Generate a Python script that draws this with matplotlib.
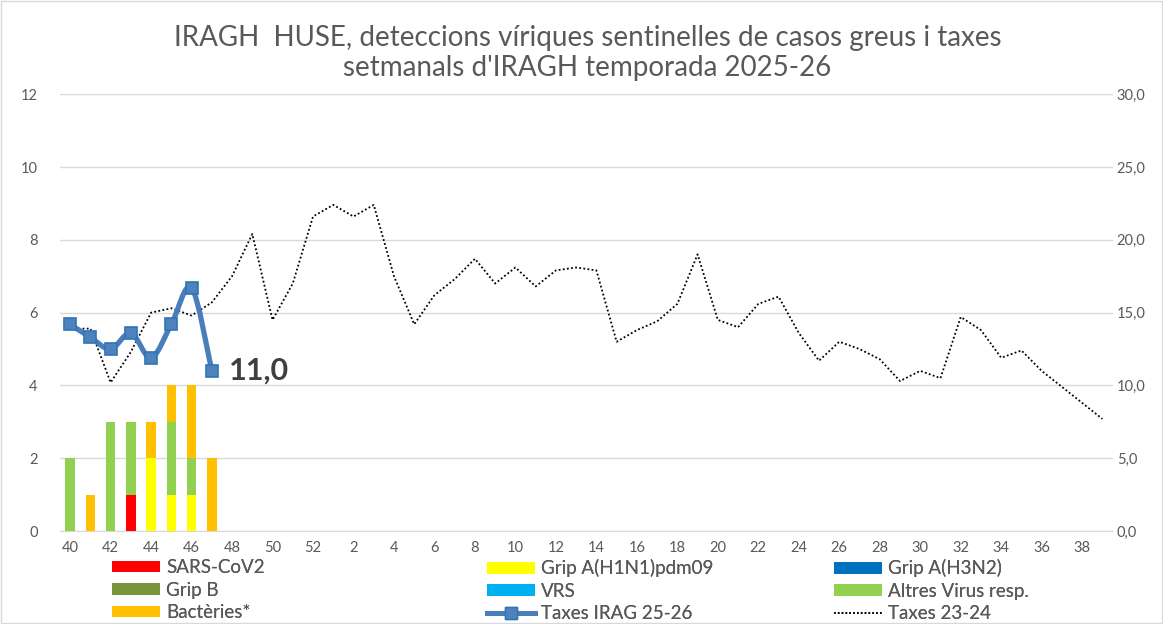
import matplotlib

matplotlib.use("Agg")
import matplotlib.pyplot as plt
from matplotlib.lines import Line2D
from matplotlib.patches import Patch, PathPatch, Rectangle
from matplotlib.path import Path
from matplotlib.ticker import FuncFormatter

plt.rcParams["font.family"] = ["Lato", "DejaVu Sans"]

# Setmanes epidemiològiques 40..52, 1..39
weeks = list(range(40, 53)) + list(range(1, 40))

# Deteccions (eix esquerre), setmanes 40..47
sars_cov2 = [0, 0, 0, 1, 0, 0, 0, 0]
grip_h1n1 = [0, 0, 0, 0, 2, 1, 1, 0]
grip_h3n2 = [0, 0, 0, 0, 0, 0, 0, 0]
grip_b = [0, 0, 0, 0, 0, 0, 0, 0]
vrs = [0, 0, 0, 0, 0, 0, 0, 0]
altres_virus = [2, 0, 3, 2, 0, 2, 1, 0]
bacteries = [0, 1, 0, 0, 1, 1, 2, 2]

# Taxes (eix dret)
taxes_25_26 = [14.2, 13.3, 12.5, 13.6, 11.9, 14.2, 16.7, 11.0]
taxes_23_24 = [
    13.9, 13.9, 10.2, 12.3, 15.0, 15.3, 14.8, 15.7, 17.5, 20.4,
    14.5, 17.0, 21.6, 22.4, 21.6, 22.4, 17.5, 14.2, 16.2, 17.3,
    18.7, 17.0, 18.1, 16.8, 17.9, 18.1, 17.9, 13.0, 13.8, 14.4,
    15.6, 19.0, 14.5, 14.0, 15.6, 16.1, 13.6, 11.7, 13.0, 12.5,
    11.8, 10.3, 11.0, 10.5, 14.7, 13.8, 11.9, 12.4, 11.0, 9.9,
    8.8, 7.7,
]

series = [
    ("SARS-CoV2", sars_cov2, "#FF0000"),
    ("Grip A(H1N1)pdm09", grip_h1n1, "#FFFF00"),
    ("Grip A(H3N2)", grip_h3n2, "#0070C0"),
    ("Grip B", grip_b, "#77933C"),
    ("VRS", vrs, "#00B0F0"),
    ("Altres Virus resp.", altres_virus, "#92D050"),
    ("Bactèries*", bacteries, "#FFC000"),
]

BLUE = "#4A7EBB"
GREY = "#595959"


def smooth_path(xs, ys, t=1 / 6):
    """Corba suau tipus Excel (Bezier) que passa per tots els punts."""
    pts = list(zip(xs, ys))
    verts = [pts[0]]
    codes = [Path.MOVETO]
    n = len(pts)
    for i in range(n - 1):
        p0 = pts[i - 1] if i > 0 else pts[i]
        p1, p2 = pts[i], pts[i + 1]
        p3 = pts[i + 2] if i + 2 < n else pts[i + 1]
        c1 = (p1[0] + (p2[0] - p0[0]) * t, p1[1] + (p2[1] - p0[1]) * t)
        c2 = (p2[0] - (p3[0] - p1[0]) * t, p2[1] - (p3[1] - p1[1]) * t)
        verts += [c1, c2, p2]
        codes += [Path.CURVE4] * 3
    return Path(verts, codes)


fig = plt.figure(figsize=(11.63, 6.24), dpi=100)
fig.patches.append(Rectangle((0.001, 0.001), 0.998, 0.997, transform=fig.transFigure,
                             fill=False, edgecolor="#D9D9D9", linewidth=1))
ax = fig.add_axes([0.0516, 0.149, 0.905, 0.70])
ax2 = ax.twinx()

x_bars = list(range(len(sars_cov2)))
bottom = [0] * len(x_bars)
for name, vals, color in series:
    ax.bar(x_bars, vals, width=0.47, bottom=bottom, color=color, zorder=3)
    bottom = [b + v for b, v in zip(bottom, vals)]

ax.set_xlim(-0.5, len(weeks) - 0.5)
ax.set_ylim(0, 12)
ax.set_yticks(range(0, 13, 2))
ax.grid(axis="y", color="#D9D9D9", linewidth=1, zorder=0)
ax.set_axisbelow(True)
for s in ["top", "right", "left"]:
    ax.spines[s].set_visible(False)
ax.spines["bottom"].set_color("#D9D9D9")
ax.tick_params(axis="both", length=0, labelsize=10.5, labelcolor=GREY)
ax.tick_params(axis="y", pad=16)
ax.set_xticks(range(0, len(weeks), 2))
ax.set_xticklabels([str(w) for w in weeks[::2]])
ax.tick_params(axis="x", pad=7)

ax2.plot(range(len(taxes_23_24)), taxes_23_24, color="black", linestyle=(0, (1, 1.3)),
         linewidth=1.3, zorder=4)
xs = list(range(len(taxes_25_26)))
ax2.add_patch(PathPatch(smooth_path(xs, taxes_25_26), facecolor="none",
                        edgecolor=BLUE, linewidth=3.8, zorder=5, capstyle="round"))
ax2.plot(xs, taxes_25_26, linestyle="none", marker="s", markersize=8.5,
         markerfacecolor="#4F81BD", markeredgecolor="#2E75B6", markeredgewidth=1.2,
         zorder=6)
ax2.annotate(f"{taxes_25_26[-1]:.1f}".replace(".", ","),
             (len(taxes_25_26) - 1, taxes_25_26[-1]), xytext=(12, 0),
             textcoords="offset points", va="center", ha="left",
             fontsize=22, fontweight="bold", color="#404040")
ax2.set_ylim(0, 30)
ax2.set_yticks(range(0, 31, 5))
ax2.yaxis.set_major_formatter(FuncFormatter(lambda v, p: f"{v:.1f}".replace(".", ",")))
for s in ["top", "right", "left", "bottom"]:
    ax2.spines[s].set_visible(False)
ax2.tick_params(axis="y", length=0, labelsize=10.5, labelcolor=GREY, pad=3)

fig.text(0.505, 0.915, "IRAGH  HUSE, deteccions víriques sentinelles de casos greus i taxes\n"
         "setmanals d'IRAGH temporada 2025-26", ha="center", va="center",
         fontsize=20, color=GREY, linespacing=1.2)

# Llegenda en tres columnes
handles = [Patch(facecolor=c, label=n) for n, _, c in series]
h_irag = Line2D([], [], color=BLUE, linewidth=3.5, marker="s", markersize=8.5,
                markerfacecolor="#4F81BD", markeredgecolor="#2E75B6",
                label="Taxes IRAG 25-26")
h_prev = Line2D([], [], color="black", linestyle=(0, (1, 1.3)), linewidth=1.2,
                label="Taxes 23-24")
cols = [
    [handles[0], handles[3], handles[6]],
    [handles[1], handles[4], h_irag],
    [handles[2], handles[5], h_prev],
]
col_x = [0.088, 0.4104, 0.7088]
for cx, hs in zip(col_x, cols):
    leg = fig.legend(handles=hs, loc="upper left", bbox_to_anchor=(cx, 0.1185),
                     frameon=False, fontsize=13.5, handlelength=2.6, handleheight=0.55,
                     labelspacing=0.28, handletextpad=0.3, borderpad=0,
                     labelcolor=GREY)
    fig.add_artist(leg)

fig.savefig("out.png", dpi=100)
